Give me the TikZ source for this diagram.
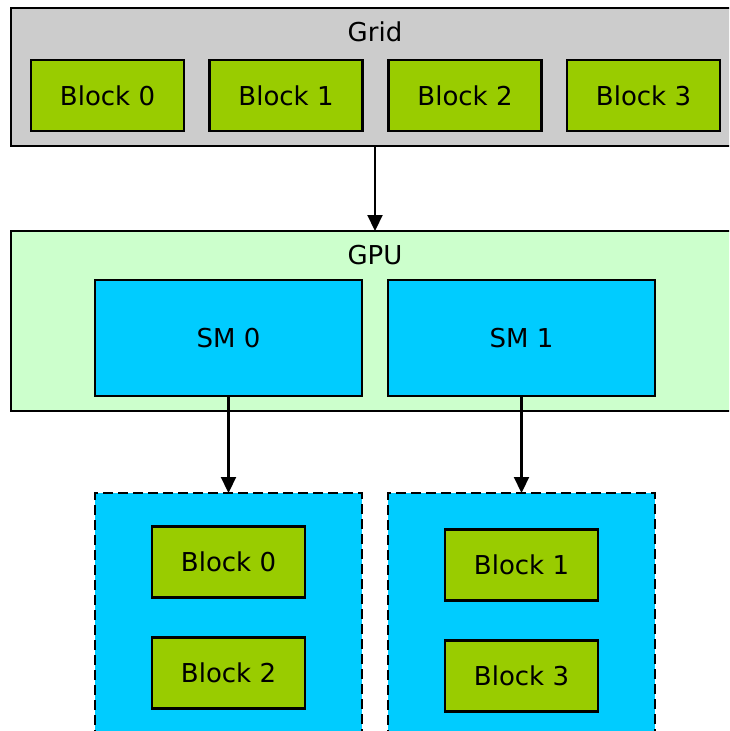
\documentclass[tikz,border=0pt]{standalone}
\usepackage{fontspec}
\setmainfont{DejaVu Sans}
\usetikzlibrary{arrows.meta}
\definecolor{gridgray}{HTML}{CCCCCC}
\definecolor{blockgreen}{HTML}{99CC00}
\definecolor{gpugreen}{HTML}{CCFFCC}
\definecolor{smblue}{HTML}{00CCFF}
\tikzset{
  box/.style={draw=black, line width=2.6pt, rectangle, inner sep=0pt, outer sep=0pt},
  blk/.style={box, fill=blockgreen, minimum width=153pt, minimum height=71pt},
  sm/.style={box, fill=smblue, minimum width=267pt, minimum height=116pt},
  smgroup/.style={box, fill=smblue, dash pattern=on 10pt off 5pt, minimum width=267pt, minimum height=249pt},
  title/.style={inner sep=0pt},
  link/.style={line width=2.2pt, -{Triangle[length=16pt,width=15pt]}},
}
\begin{document}
\begin{tikzpicture}[x=1pt, y=-1pt, font=\fontsize{26}{30}\selectfont]
\useasboundingbox (0,0) rectangle (729,731);
\clip (0,0) rectangle (729,731);
\fill[white] (0,0) rectangle (729,731);

% grid of blocks
\node[box, fill=gridgray, minimum width=728pt, minimum height=138pt] (grid) at (375,77) {};
\node[title] (gridlabel) at (375,32) {Grid};
\node[blk] (g0) at (107.5,95.5) {Block 0};
\node[blk] (g1) at (286,95.5) {Block 1};
\node[blk] (g2) at (465,95.5) {Block 2};
\node[blk] (g3) at (643.5,95.5) {Block 3};

% the device and its multiprocessors
\node[box, fill=gpugreen, minimum width=728pt, minimum height=180pt] (gpu) at (375,321) {};
\node[title] (gpulabel) at (375,255) {GPU};
\node[sm] (sm0) at (228.5,338) {SM 0};
\node[sm] (sm1) at (521.5,338) {SM 1};

% blocks scheduled on each multiprocessor
\node[smgroup] (q0) at (228.5,617.5) {};
\node[smgroup] (q1) at (521.5,617.5) {};
\node[blk] (a0) at (228.5,562) {Block 0};
\node[blk] (a2) at (228.5,673) {Block 2};
\node[blk] (b1) at (521.5,565) {Block 1};
\node[blk] (b3) at (521.5,676) {Block 3};

\draw[link] (grid.south) -- (gpu.north);
\draw[link] (sm0.south) -- (q0.north);
\draw[link] (sm1.south) -- (q1.north);
\end{tikzpicture}
\end{document}
